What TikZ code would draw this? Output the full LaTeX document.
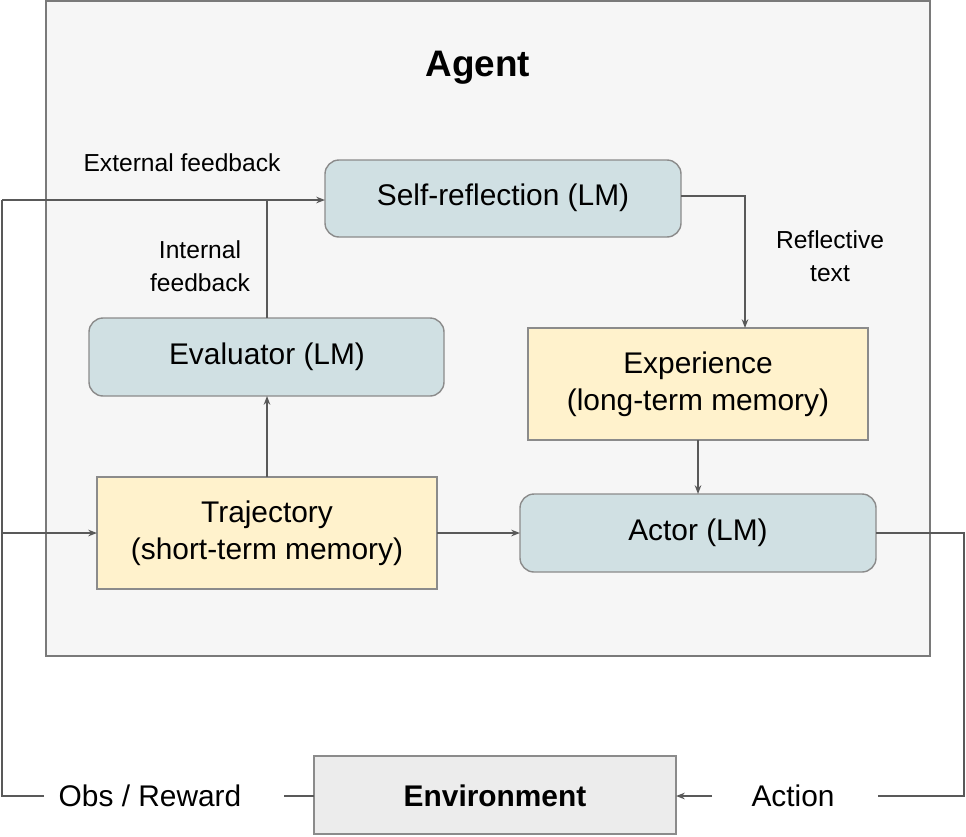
\documentclass[tikz,border=0pt]{standalone}
\usepackage{fontspec}
\setmainfont{Liberation Sans}
\usetikzlibrary{arrows.meta}
\definecolor{boxblue}{HTML}{D0E0E3}
\definecolor{boxyellow}{HTML}{FFF2CC}
\definecolor{linegray}{HTML}{595959}
\tikzset{
    lmbox/.style={draw=linegray!70, fill=boxblue, rounded corners=8pt, thick},
    membox/.style={draw=linegray!70, fill=boxyellow, thick},
    flow/.style={draw=linegray, thick, -{Stealth[length=5pt]}},
    plain/.style={draw=linegray, thick}
}
\begin{document}
\begin{tikzpicture}[x=0.02cm, y=-0.02cm]
            \useasboundingbox (0,0) rectangle (966,836);
            \draw[fill=gray!7, draw=linegray!80, thick] (46,1) rectangle (930,656);
            \node[font=\fontsize{21}{25}\selectfont\bfseries] (agent) at (478,68) {Agent};

            % boxes
            \draw[lmbox] (325,160) rectangle (681,237);
            \node[font=\fontsize{17}{21}\selectfont] (refl) at (503,198) {Self-reflection (LM)};
            \draw[lmbox] (89,318) rectangle (444,396);
            \node[font=\fontsize{17}{21}\selectfont] (eval) at (267,357) {Evaluator (LM)};
            \draw[membox] (528,328) rectangle (868,440);
            \node[font=\fontsize{17}{21}\selectfont, align=center] (exp) at (698,384) {Experience\\(long-term memory)};
            \draw[membox] (97,477) rectangle (437,589);
            \node[font=\fontsize{17}{21}\selectfont, align=center] (traj) at (267,533) {Trajectory\\(short-term memory)};
            \draw[lmbox] (520,494) rectangle (876,572);
            \node[font=\fontsize{17}{21}\selectfont] (actor) at (698,533) {Actor (LM)};
            \draw[draw=linegray!70, fill=gray!15, thick] (314,756) rectangle (676,834);
            \node[font=\fontsize{17}{21}\selectfont\bfseries] (env) at (495,796) {Environment};

            % labels
            \node[font=\fontsize{14}{17}\selectfont] (extfb) at (182,163) {External feedback};
            \node[font=\fontsize{14}{19}\selectfont, align=center] (intfb) at (200,266) {Internal\\feedback};
            \node[font=\fontsize{14}{19}\selectfont, align=center] (refltext) at (830,256) {Reflective\\text};
            \node[font=\fontsize{17}{21}\selectfont] (obs) at (150,796) {Obs / Reward};
            \node[font=\fontsize{17}{21}\selectfont] (action) at (793,796) {Action};

            % connectors
            \coordinate (c1) at (2,200);
            \coordinate (c2) at (2,533);
            \draw[plain] (876,533) -- (964,533) -- (964,796) -- (878,796);
            \draw[flow] (712,796) -- (676,796);
            \draw[plain] (314,796) -- (284,796);
            \draw[plain] (44,796) -- (2,796) -- (c1);
            \draw[flow] (c1) -- (325,200);
            \draw[flow] (c2) -- (97,533);
            \draw[plain] (267,318) -- (267,200);
            \draw[flow] (267,477) -- (267,396);
            \draw[flow] (681,196) -- (745,196) -- (745,328);
            \draw[flow] (698,440) -- (698,494);
            \draw[flow] (437,533) -- (520,533);
\end{tikzpicture}
\end{document}
